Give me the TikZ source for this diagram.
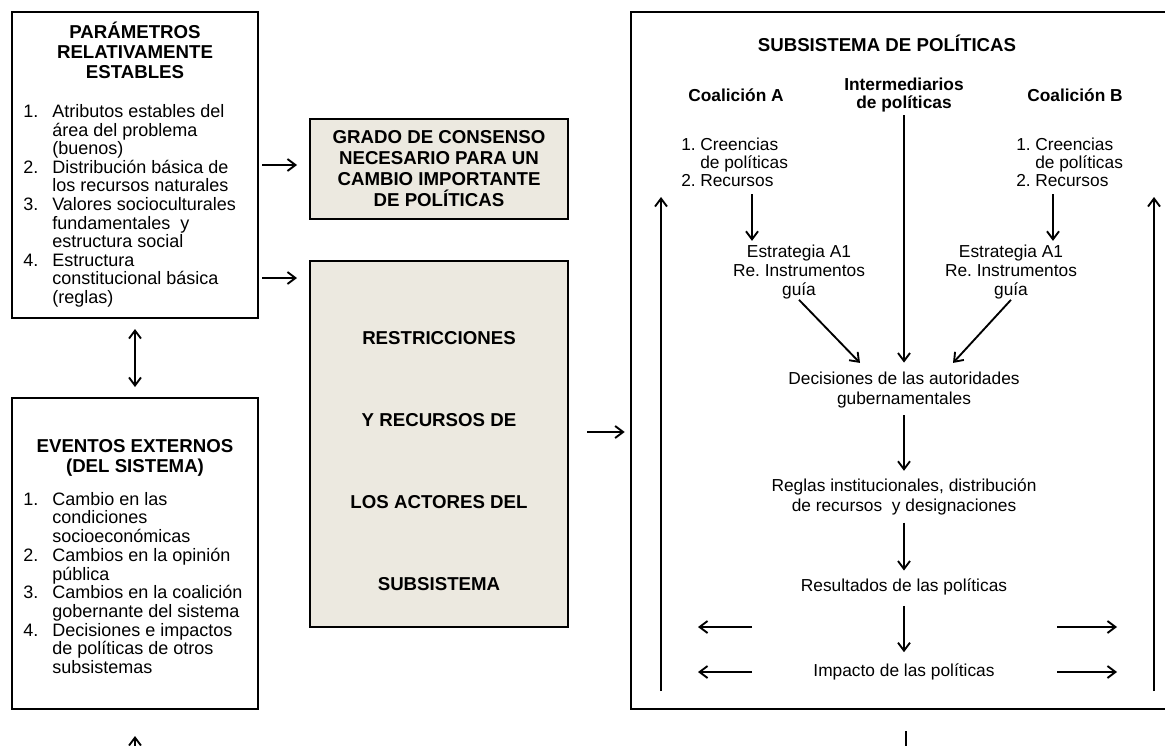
\documentclass[tikz,border=0pt]{standalone}
\usepackage{fontspec}
\setmainfont{Liberation Sans}
\usepackage{xcolor}
\usetikzlibrary{fit, positioning, arrows.meta}

\definecolor{restrfill}{RGB}{236,233,224}
\newcommand{\titlefont}{\fontsize{14}{15}\selectfont\bfseries}
\newcommand{\listfont}{\fontsize{13.5}{13.8}\selectfont}
\newcommand{\sublistfont}{\fontsize{13}{13.8}\selectfont}
\newcommand{\subfont}{\fontsize{13}{14.6}\selectfont}

\tikzset{
  box/.style={draw, line width=1.5pt, inner sep=0pt},
  graybox/.style={box, fill=restrfill},
  arr/.style={line width=1.4pt, -{Straight Barb[length=6pt,width=9pt]}},
  dblarr/.style={line width=1.4pt, {Straight Barb[length=6pt,width=9pt]}-{Straight Barb[length=6pt,width=9pt]}},
  txt/.style={align=center, inner sep=0pt, font=\subfont},
  bold/.style={align=center, inner sep=0pt, font=\fontsize{13}{13.5}\selectfont\bfseries},
}

\begin{document}
\begin{tikzpicture}[x=0.75pt, y=-0.75pt]
\useasboundingbox (0,0) rectangle (1165,746);

% parametros
\coordinate (p1) at (12,12);
\coordinate (p2) at (258,318);
\node[box, fit=(p1)(p2)] (param) {};
\node[align=center, font=\titlefont] (paramtitle) at (135,50) {PARÁMETROS\\RELATIVAMENTE\\ESTABLES};
\node[anchor=north west, inner sep=0pt, font=\listfont] (paramlist) at (23,104) {%
\begin{tabular}{@{}p{21.75pt}@{}l@{}}
1. & Atributos estables del\\
   & área del problema\\
   & (buenos)\\
2. & Distribución básica de\\
   & los recursos naturales\\
3. & Valores socioculturales\\
   & fundamentales \ y\\
   & estructura social\\
4. & Estructura\\
   & constitucional básica\\
   & (reglas)
\end{tabular}};

% eventos externos
\coordinate (e1) at (12,398);
\coordinate (e2) at (258,709);
\node[box, fit=(e1)(e2)] (event) {};
\node[align=center, font=\titlefont] (eventtitle) at (135,458) {EVENTOS EXTERNOS\\(DEL SISTEMA)};
\node[anchor=north west, inner sep=0pt, font=\listfont] (eventlist) at (23,492) {%
\begin{tabular}{@{}p{21.75pt}@{}l@{}}
1. & Cambio en las\\
   & condiciones\\
   & socioeconómicas\\
2. & Cambios en la opinión\\
   & pública\\
3. & Cambios en la coalición\\
   & gobernante del sistema\\
4. & Decisiones e impactos\\
   & de políticas de otros\\
   & subsistemas
\end{tabular}};

\draw[dblarr, shorten <=7.5pt, shorten >=7.5pt] (param) -- (event);
\coordinate (evin) at (135,746);
\draw[arr, shorten >=19.5pt] (evin) -- (event);

% restricciones
\coordinate (g1) at (310,119);
\coordinate (g2) at (568,219);
\node[graybox, fit=(g1)(g2)] (grado) {};
\node[align=center, font={\fontsize{14}{15.75}\selectfont\bfseries}] (gradotext) at (grado) {GRADO DE CONSENSO\\NECESARIO PARA UN\\CAMBIO IMPORTANTE\\DE POLÍTICAS};
\coordinate (r1) at (310,261);
\coordinate (r2) at (568,627);
\node[graybox, fit=(r1)(r2)] (restr) {};
\node[font=\titlefont] (restra) at (439,338.5) {RESTRICCIONES};
\node[font=\titlefont] (restrb) at (439,420) {Y RECURSOS DE};
\node[font=\titlefont] (restrc) at (439,502) {LOS ACTORES DEL};
\node[font=\titlefont] (restrd) at (439,584) {SUBSISTEMA};

\coordinate (pa) at (262,165);
\coordinate (pb) at (262,278);
\draw[arr, shorten >=9pt] (pa) -- (pa -| grado.west);
\draw[arr, shorten >=9pt] (pb) -- (pb -| restr.west);

% subsistema
\coordinate (s1) at (631,12);
\coordinate (s2) at (1175,709);
\node[box, fit=(s1)(s2)] (subsys) {};
\coordinate (pc) at (0,432);
\draw[arr, shorten <=13.5pt, shorten >=4pt] (restr.east |- pc) -- (subsys.west |- pc);

\node[align=center, font=\titlefont] (subtitle) at (887,43) {SUBSISTEMA DE POLÍTICAS};
\node[bold] (coalA) at (736,95) {Coalición A};
\node[bold] (inter) at (904,95) {Intermediarios\\de políticas};
\node[bold] (coalB) at (1075,95) {Coalición B};

\node[anchor=north west, inner sep=0pt, font=\sublistfont] (listA) at (681,137) {%
\begin{tabular}{@{}p{14.25pt}@{}l@{}}
1. & Creencias\\
   & de políticas\\
2. & Recursos
\end{tabular}};
\node[anchor=north west, inner sep=0pt, font=\sublistfont] (listB) at (1016,137) {%
\begin{tabular}{@{}p{14.25pt}@{}l@{}}
1. & Creencias\\
   & de políticas\\
2. & Recursos
\end{tabular}};

\node[txt] (estrA) at (799,272) {Estrategia A1\\Re.\ Instrumentos\\guía};
\node[txt] (estrB) at (1011,272) {Estrategia A1\\Re.\ Instrumentos\\guía};
\node[txt] (dec) at (904,390) {Decisiones de las autoridades\\gubernamentales};
\node[txt] (reg) at (904,497) {Reglas institucionales, distribución\\de recursos \ y designaciones};
\node[txt] (res) at (904,587) {Resultados de las políticas};
\node[txt] (imp) at (904,672) {Impacto de las políticas};

\coordinate (ax) at (752,0);
\coordinate (bx) at (1053,0);
\draw[arr, shorten <=1pt, shorten >=2.5pt] (ax |- listA.south) -- (ax |- estrA.north);
\draw[arr, shorten <=1pt, shorten >=2.5pt] (bx |- listB.south) -- (bx |- estrB.north);
\draw[arr, shorten <=2pt, shorten >=7pt] (inter) -- (dec);
\draw[arr] (estrA.south) -- ([xshift=-33pt,yshift=6.75pt]dec.north);
\draw[arr] (estrB.south) -- ([xshift=36.75pt,yshift=6.75pt]dec.north);
\draw[arr, shorten <=5.5pt, shorten >=6pt] (dec) -- (reg);
\draw[arr, shorten <=5.5pt, shorten >=6pt] (reg) -- (res);
\draw[arr, shorten <=7.8pt, shorten >=8.5pt] (res) -- (imp);

% retroalimentacion
\coordinate (fl0) at (661,691);
\coordinate (fl1) at (661,197);
\coordinate (fr0) at (1154,691);
\coordinate (fr1) at (1154,197);
\draw[arr] (fl0) -- (fl1);
\draw[arr] (fr0) -- (fr1);
\coordinate (la0) at (752,627);
\coordinate (la1) at (698,627);
\coordinate (lb0) at (752,672);
\coordinate (lb1) at (698,672);
\coordinate (ra0) at (1057,627);
\coordinate (ra1) at (1117,627);
\coordinate (rb0) at (1057,672);
\coordinate (rb1) at (1117,672);
\draw[arr] (la0) -- (la1);
\draw[arr] (lb0) -- (lb1);
\draw[arr] (ra0) -- (ra1);
\draw[arr] (rb0) -- (rb1);

\coordinate (out) at (906,746);
\draw[line width=1.4pt, shorten <=16pt] (subsys.south -| out) -- (out);
\end{tikzpicture}
\end{document}
